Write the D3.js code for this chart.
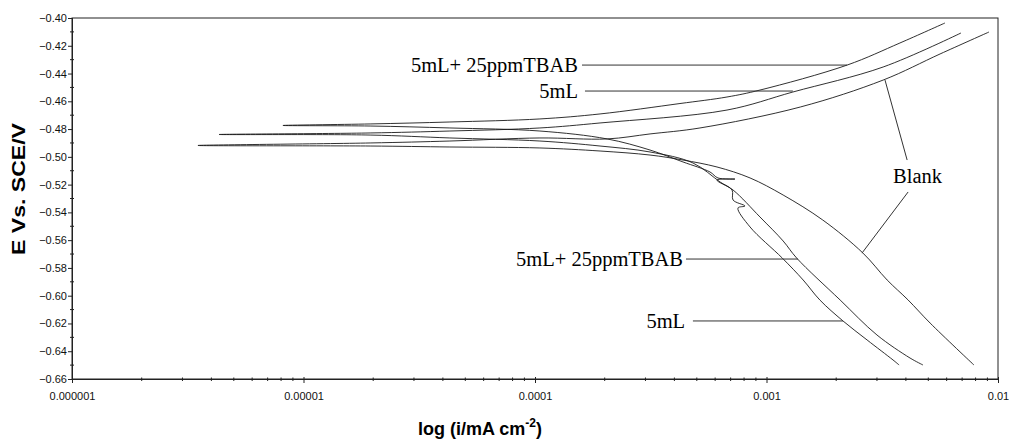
<!DOCTYPE html>
<html>
<head>
<meta charset="utf-8">
<script src="https://cdn.jsdelivr.net/npm/d3@7"></script>
<style>
  body { margin: 0; background: #fff; }
  svg { display: block; }
</style>
</head>
<body>
<div id="chart"></div>
<script>
// polarization curves, [i (mA cm-2), E (V vs SCE)]
// each one traced from the cathodic end, through Ecorr, up the anodic branch
const blank = [
  [7.87e-3, -0.6499], [5.09e-3, -0.6197], [4.09e-3, -0.6031], [3.32e-3, -0.5887],
  [2.61e-3, -0.5693], [1.75e-3, -0.5455], [1.18e-3, -0.5275], [8.49e-4, -0.5152],
  [6.11e-4, -0.5073], [4.36e-4, -0.5023], [3.14e-4, -0.4987], [1.91e-4, -0.4958],
  [1.05e-4, -0.4936], [4.29e-5, -0.4929], [1.94e-5, -0.4922], [3.50e-6, -0.4918],
  [1.94e-5, -0.4900], [4.29e-5, -0.4886], [1.05e-4, -0.4864], [2.05e-4, -0.4871],
  [3.14e-4, -0.4835], [5.16e-4, -0.4792], [1.40e-3, -0.4641], [3.19e-3, -0.4447],
  [5.62e-3, -0.4259], [9.14e-3, -0.4101]
];
const fiveML = [
  [3.74e-3, -0.6499], [3.52e-3, -0.6463], [2.72e-3, -0.6319], [2.14e-3, -0.6182],
  [1.70e-3, -0.6031], [1.44e-3, -0.5887], [1.17e-3, -0.5729], [8.49e-4, -0.5505],
  [7.53e-4, -0.5368], [8.07e-4, -0.5354], [7.17e-4, -0.5311], [7.10e-4, -0.5239],
  [6.30e-4, -0.5181], [4.81e-4, -0.5044], [3.14e-4, -0.4965], [1.91e-4, -0.4922],
  [1.05e-4, -0.4886], [4.29e-5, -0.4864], [1.94e-5, -0.4843], [4.32e-6, -0.4839],
  [1.94e-5, -0.4828], [4.29e-5, -0.4814], [1.05e-4, -0.4792], [1.91e-4, -0.4756],
  [6.75e-4, -0.4663], [1.30e-3, -0.4533], [3.19e-3, -0.4353], [6.92e-3, -0.4108]
];
const fiveMLTbab = [
  [4.74e-3, -0.6499], [4.17e-3, -0.6449], [3.00e-3, -0.6283], [2.08e-3, -0.6031],
  [1.35e-3, -0.5729], [1.18e-3, -0.5606], [9.37e-4, -0.5433], [7.17e-4, -0.5239],
  [6.11e-4, -0.5167], [7.31e-4, -0.5160], [6.17e-4, -0.5152], [5.70e-4, -0.5109],
  [4.36e-4, -0.5037], [3.14e-4, -0.4951], [2.05e-4, -0.4871], [1.05e-4, -0.4814],
  [4.29e-5, -0.4792], [1.94e-5, -0.4778], [8.15e-6, -0.4774],
  [1.94e-5, -0.4763], [4.29e-5, -0.4749], [1.05e-4, -0.4727], [1.91e-4, -0.4691],
  [4.23e-4, -0.4616], [6.75e-4, -0.4569], [9.37e-4, -0.4519], [2.23e-3, -0.4339],
  [3.77e-3, -0.4180], [5.90e-3, -0.4036]
];

// axis ticks
const xTickValues = [0.000001, 0.00001, 0.0001, 0.001, 0.01];
const xTickLabels = ["0.000001", "0.00001", "0.0001", "0.001", "0.01"];
const yTickValues = [-0.40, -0.42, -0.44, -0.46, -0.48, -0.50, -0.52, -0.54,
                     -0.56, -0.58, -0.60, -0.62, -0.64, -0.66];
const yMinorValues = [-0.41, -0.43, -0.45, -0.47, -0.49, -0.51, -0.53,
                      -0.55, -0.57, -0.59, -0.61, -0.63, -0.65];

// labels with their leader lines: text end (i), leader from/to [i, E]
const labels = [
  { text: "5mL+ 25ppmTBAB", textI: 1.533e-4, from: [1.596e-4, -0.4339], to: [2.23e-3, -0.4339] },
  { text: "5mL", textI: 1.533e-4, from: [1.644e-4, -0.4526], to: [1.30e-3, -0.4526] },
  { text: "5mL+ 25ppmTBAB", textI: 4.36e-4, from: [4.49e-4, -0.5736], to: [1.368e-3, -0.5736] },
  { text: "5mL", textI: 4.45e-4, from: [4.81e-4, -0.6182], to: [2.14e-3, -0.6182] }
];
const blankLabel = { text: "Blank", i: 3.52e-3, E: -0.5188 };
const blankLeaders = [
  [[3.25e-3, -0.4447], [4.05e-3, -0.5023]],
  [[4.09e-3, -0.5253], [2.585e-3, -0.5693]]
];

let w = 1009, h = 439;
let margin = { top: 18, right: 11, bottom: 60, left: 72 };

let svg = d3.select("#chart").append("svg")
    .attr("width", w)
    .attr("height", h);

let x = d3.scaleLog().domain([1e-6, 1e-2]).range([margin.left, w - margin.right]);
let y = d3.scaleLinear().domain([-0.40, -0.66]).range([margin.top, h - margin.bottom]);

// plot frame
svg.append("rect")
    .attr("x", margin.left)
    .attr("y", margin.top)
    .attr("width", w - margin.left - margin.right)
    .attr("height", h - margin.top - margin.bottom)
    .attr("fill", "none")
    .attr("stroke", "#222")
    .attr("stroke-width", 1);

// y axis
let yAxis = d3.axisLeft(y)
    .tickValues(yTickValues)
    .tickFormat(d3.format(".2f"))
    .tickSize(4)
    .tickPadding(1);
let yAxisGroup = svg.append("g")
    .attr("transform", "translate(" + margin.left + ",0)")
    .call(yAxis);
yAxisGroup.selectAll("text")
    .style("font-family", "'Liberation Sans', Arial, sans-serif")
    .style("font-size", "11px")
    .attr("fill", "#111");
yAxisGroup.selectAll("line").attr("x2", -4).attr("x1", 1).attr("stroke", "#222");
yAxisGroup.select(".domain").attr("stroke", "#222");

svg.append("g").selectAll("line")
    .data(yMinorValues)
    .enter()
    .append("line")
    .attr("x1", margin.left - 2)
    .attr("x2", margin.left + 2)
    .attr("y1", d => y(d))
    .attr("y2", d => y(d))
    .attr("stroke", "#222");

// x axis
let xAxis = d3.axisBottom(x)
    .tickValues(xTickValues)
    .tickFormat((d, i) => xTickLabels[i])
    .tickSize(4)
    .tickPadding(9);
let xAxisGroup = svg.append("g")
    .attr("transform", "translate(0," + (h - margin.bottom) + ")")
    .call(xAxis);
xAxisGroup.selectAll("text")
    .style("font-family", "'Liberation Sans', Arial, sans-serif")
    .style("font-size", "11px")
    .attr("fill", "#111");
xAxisGroup.selectAll("line").attr("y1", -2).attr("stroke", "#222");
xAxisGroup.select(".domain").attr("stroke", "#222");

let minorX = x.ticks().filter(d => !xTickValues.some(v => Math.abs(v - d) / v < 1e-6));
svg.append("g").selectAll("line")
    .data(minorX)
    .enter()
    .append("line")
    .attr("x1", d => x(d))
    .attr("x2", d => x(d))
    .attr("y1", h - margin.bottom - 1.5)
    .attr("y2", h - margin.bottom + 2)
    .attr("stroke", "#222");

// axis titles
svg.append("text")
    .attr("transform", "translate(25,189) rotate(-90)")
    .attr("text-anchor", "middle")
    .attr("textLength", 132)
    .attr("lengthAdjust", "spacingAndGlyphs")
    .style("font-family", "'Liberation Sans', Arial, sans-serif")
    .style("font-weight", "bold")
    .style("font-size", "18px")
    .text("E Vs. SCE/V");

let xTitle = svg.append("text")
    .attr("x", 418)
    .attr("y", 435)
    .style("font-family", "'Liberation Sans', Arial, sans-serif")
    .style("font-weight", "bold")
    .style("font-size", "18px");
xTitle.append("tspan").text("log (i/mA cm");
xTitle.append("tspan").attr("dy", -8).style("font-size", "12px").text("-2");
xTitle.append("tspan").attr("dy", 8).text(")");

// curves
let line = d3.line()
    .x(d => x(d[0]))
    .y(d => y(d[1]))
    .curve(d3.curveCatmullRom.alpha(0.5));

let curves = [blank, fiveML, fiveMLTbab];
svg.append("g").selectAll("path")
    .data(curves)
    .enter()
    .append("path")
    .attr("d", line)
    .attr("fill", "none")
    .attr("stroke", "#1a1a1a")
    .attr("stroke-width", 0.9)
    .attr("stroke-linejoin", "round");

// labels and leaders
let serif = "'Liberation Serif', 'Times New Roman', serif";
labels.forEach(function(l) {
  svg.append("line")
      .attr("x1", x(l.from[0])).attr("y1", y(l.from[1]))
      .attr("x2", x(l.to[0])).attr("y2", y(l.to[1]))
      .attr("stroke", "#333");
  svg.append("text")
      .attr("x", x(l.textI))
      .attr("y", y(l.from[1]))
      .attr("dy", "0.34em")
      .attr("text-anchor", "end")
      .style("font-family", serif)
      .style("font-size", "20.5px")
      .text(l.text);
});

blankLeaders.forEach(function(seg) {
  svg.append("line")
      .attr("x1", x(seg[0][0])).attr("y1", y(seg[0][1]))
      .attr("x2", x(seg[1][0])).attr("y2", y(seg[1][1]))
      .attr("stroke", "#333");
});
svg.append("text")
    .attr("x", x(blankLabel.i))
    .attr("y", y(blankLabel.E))
    .style("font-family", serif)
    .style("font-size", "20.5px")
    .text(blankLabel.text);
</script>
</body>
</html>
